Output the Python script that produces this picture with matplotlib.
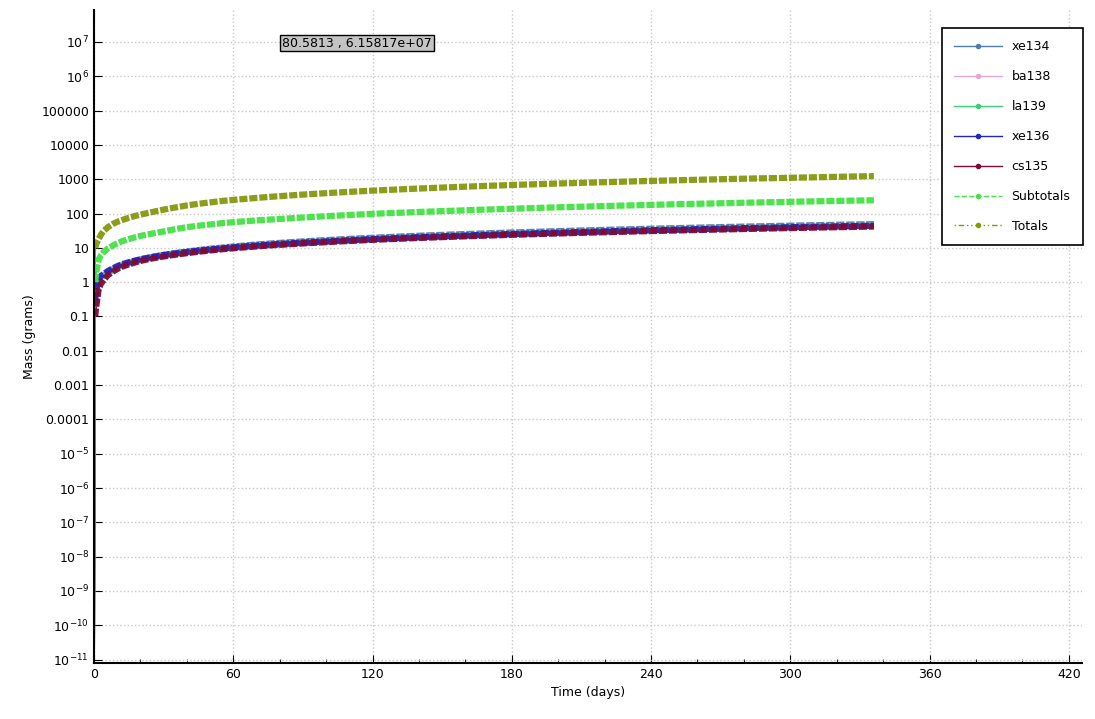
import matplotlib
matplotlib.use('Agg')
import matplotlib.pyplot as plt
from matplotlib.lines import Line2D
from matplotlib.ticker import FixedLocator, FixedFormatter, MultipleLocator

plt.rcParams.update({'font.family': 'DejaVu Sans', 'font.size': 9})

# time points (days)
t = [0, 0.5, 1, 2, 3, 4, 6, 8, 10, 12, 15, 18, 21, 25, 30, 35, 40, 45, 50, 56,
     63, 70, 77, 84, 91, 98, 105, 112, 119, 126, 133, 140, 154, 168, 182, 196,
     210, 224, 238, 252, 266, 280, 294, 308, 322, 336]

xe134 = [1e-13, 0.2, 0.4, 0.9, 1.2, 1.5, 1.9, 2.3, 2.7, 3.1, 3.6, 4.2, 4.7, 5.4, 6.2,
         7.0, 7.8, 8.6, 9.4, 10.3, 11.4, 12.5, 13.5, 14.5, 15.5, 16.5, 17.5, 18.5,
         19.5, 20.5, 21.5, 22.5, 24.4, 26.3, 28.2, 30.1, 32.0, 33.9, 35.8, 37.7,
         39.6, 41.5, 43.4, 45.3, 47.2, 49.1]
ba138 = [1e-13, 0.2, 0.4, 0.9, 1.2, 1.5, 1.9, 2.3, 2.7, 3.1, 3.6, 4.1, 4.6, 5.2, 6.0,
         6.7, 7.4, 8.1, 8.8, 9.6, 10.6, 11.5, 12.4, 13.3, 14.2, 15.1, 16.0, 16.9,
         17.8, 18.7, 19.5, 20.4, 22.2, 23.9, 25.6, 27.3, 29.0, 30.8, 32.5, 34.2,
         35.9, 37.6, 39.4, 41.1, 42.8, 44.5]
la139 = [1e-13, 0.2, 0.4, 0.9, 1.2, 1.5, 1.9, 2.3, 2.7, 3.1, 3.6, 4.1, 4.6, 5.2, 6.0,
         6.7, 7.4, 8.1, 8.8, 9.6, 10.6, 11.5, 12.4, 13.3, 14.2, 15.1, 16.0, 16.9,
         17.8, 18.7, 19.5, 20.4, 22.2, 23.9, 25.6, 27.3, 29.0, 30.8, 32.5, 34.2,
         35.9, 37.6, 39.4, 41.1, 42.8, 44.5]
xe136 = [1e-13, 0.3, 0.6, 1.2, 1.5, 1.7, 2.1, 2.5, 2.9, 3.3, 3.8, 4.3, 4.8, 5.4, 6.2,
         6.9, 7.6, 8.3, 9.0, 9.8, 10.8, 11.7, 12.6, 13.5, 14.4, 15.2, 16.1, 17.0,
         17.9, 18.8, 19.6, 20.5, 22.2, 23.9, 25.6, 27.3, 29.0, 30.7, 32.4, 34.1,
         35.8, 37.5, 39.2, 40.9, 42.6, 44.3]
cs135 = [1e-13, 0.1, 0.2, 0.6, 0.9, 1.1, 1.6, 2.0, 2.4, 2.8, 3.3, 3.8, 4.3, 4.9, 5.6,
         6.3, 7.0, 7.7, 8.4, 9.2, 10.1, 11.0, 11.9, 12.7, 13.6, 14.4, 15.3, 16.1,
         17.0, 17.8, 18.6, 19.4, 21.0, 22.6, 24.2, 25.8, 27.4, 29.0, 30.6, 32.2,
         33.8, 35.4, 37.0, 38.6, 40.2, 41.8]
subtotals = [1e-13, 1.0, 2.0, 4.5, 6.0, 7.3, 9.5, 11.5, 13.5, 15.5, 18, 20.5, 23, 26,
             30, 35, 40, 44, 48, 53, 58, 63, 67.5, 72, 77, 82, 87, 92, 97, 102, 106,
             111, 120, 130, 139, 149, 158, 168, 177, 187, 196, 206, 215, 225, 234, 244]
totals = [1e-13, 10, 13, 18, 24, 30, 40, 49, 57, 64, 75, 86, 96, 110, 130, 150, 172,
          192, 211, 235, 260, 285, 310, 335, 360, 385, 410, 435, 460, 485, 510, 535,
          585, 635, 685, 735, 785, 835, 885, 935, 985, 1035, 1080, 1130, 1180, 1230]

names = ['xe134', 'ba138', 'la139', 'xe136', 'cs135', 'Subtotals', 'Totals']
series = [xe134, ba138, la139, xe136, cs135, subtotals, totals]
colors = ['#4f7fae', '#e4a6dc', '#3ccf7a', '#2222c8', '#800a38', '#44e244', '#86980e']
legend_ls = ['-', '-', '-', '-', '-', '--', (0, (1, 2, 4, 2, 1, 2))]

fig = plt.figure(figsize=(10.95, 7.19), dpi=100)
ax = fig.add_axes([0.0858, 0.078, 0.902, 0.908])

# thin connecting lines (incl. drop to t=0), then the dense marker band
for vals, c in zip(series, colors):
    ax.plot(t[:3], vals[:3], color=c, lw=1.2)
for vals, c in zip(series, colors):
    ax.plot(t[1:], vals[1:], color=c, lw=4.5, linestyle=(0, (1.3, 0.3)),
            dash_capstyle='butt', alpha=0.95)

ax.set_yscale('log')
ax.set_ylim(8e-12, 8.5e7)
ax.set_xlim(0, 425.5)

yt = [10.0 ** k for k in range(-11, 8)]
ylab = [r'$10^{-11}$', r'$10^{-10}$', r'$10^{-9}$', r'$10^{-8}$', r'$10^{-7}$',
        r'$10^{-6}$', r'$10^{-5}$', '0.0001', '0.001', '0.01', '0.1', '1', '10',
        '100', '1000', '10000', '100000', r'$10^{6}$', r'$10^{7}$']
ax.yaxis.set_major_locator(FixedLocator(yt))
ax.yaxis.set_major_formatter(FixedFormatter(ylab))
ax.xaxis.set_major_locator(MultipleLocator(60))
ax.xaxis.set_minor_locator(MultipleLocator(20))

ax.tick_params(which='both', direction='in', labelsize=9, colors='black')
ax.tick_params(which='major', length=6)
ax.tick_params(which='minor', length=3)
ax.spines['top'].set_visible(False)
ax.spines['right'].set_visible(False)
ax.spines['left'].set_linewidth(1.5)
ax.spines['bottom'].set_linewidth(1.5)
ax.grid(True, which='major', linestyle=':', color='#c8c8c8', lw=1)

ax.set_xlabel('Time (days)', fontsize=9)
ax.set_ylabel('Mass (grams)', fontsize=9)

handles = [Line2D([0], [0], color=c, lw=1, ls=ls, marker='o', markersize=3)
           for c, ls in zip(colors, legend_ls)]
leg = fig.legend(handles, names, loc='upper right',
                 bbox_to_anchor=(1083 / 1095, 1 - 28 / 719), borderaxespad=0,
                 fancybox=False, edgecolor='black', framealpha=1,
                 handlelength=3.8, labelspacing=1.35, borderpad=1.0, fontsize=9)
leg.get_frame().set_linewidth(1.2)

fig.text(282 / 1095, 1 - 43 / 719, '80.5813 , 6.15817e+07', fontsize=9,
         va='center', ha='left',
         bbox=dict(boxstyle='square,pad=0.15', fc='#c4c4c4', ec='black', lw=1))

fig.savefig('out.png', dpi=100)
